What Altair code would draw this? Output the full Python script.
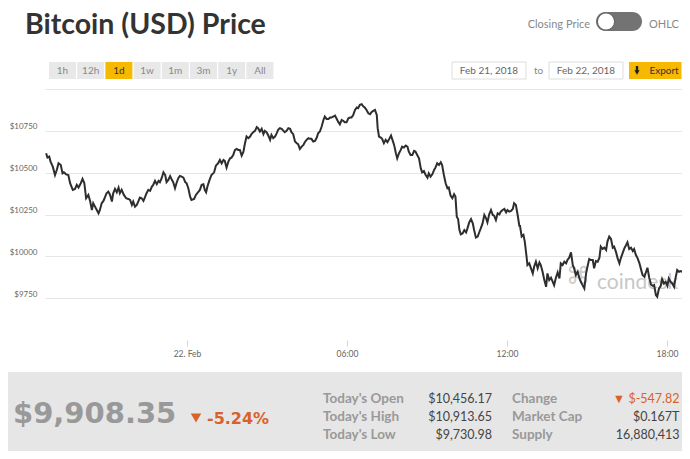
import altair as alt
import pandas as pd

# ---- price series (minutes relative to 22 Feb 2018 00:00, closing price USD) ----
minutes = [
    -317, -314, -310, -307, -302, -297, -293, -289, -284, -280, -277, -272, -267, -263, -257, -252,
    -248, -244, -239, -235, -231, -227, -222, -218, -214, -211, -207, -203, -199, -196, -192, -188,
    -184, -181, -177, -173, -169, -166, -162, -158, -154, -151, -147, -142, -137, -132, -128, -124,
    -121, -117, -113, -109, -106, -102, -98, -94, -91, -87, -83, -79, -76, -72, -68, -64,
    -61, -57, -53, -49, -46, -42, -38, -34, -31, -27, -23, -19, -16, -12, -8, -4,
    -1, 3, 7, 10, 16, 20, 25, 29, 33, 37, 40, 43, 46, 50, 55, 61,
    65, 70, 74, 78, 82, 85, 89, 93, 97, 100, 104, 108, 112, 115, 119, 123,
    127, 130, 134, 138, 142, 145, 149, 153, 157, 160, 164, 168, 172, 175, 179, 183,
    187, 190, 194, 198, 202, 205, 209, 213, 217, 220, 224, 228, 232, 235, 239, 243,
    247, 250, 254, 258, 262, 265, 269, 273, 277, 280, 284, 288, 292, 295, 299, 303,
    307, 310, 314, 318, 322, 325, 329, 333, 337, 340, 344, 348, 352, 355, 359, 363,
    367, 370, 374, 378, 382, 385, 389, 393, 397, 400, 404, 408, 412, 415, 419, 423,
    427, 429, 432, 436, 439, 443, 447, 451, 454, 459, 463, 466, 470, 473, 477, 481,
    484, 488, 492, 496, 499, 503, 507, 511, 514, 518, 522, 526, 529, 533, 537, 541,
    544, 548, 552, 556, 559, 563, 567, 571, 574, 578, 582, 586, 589, 593, 597, 601,
    604, 607, 610, 613, 616, 620, 624, 628, 631, 635, 639, 643, 646, 650, 654, 658,
    661, 665, 669, 673, 676, 680, 684, 688, 691, 695, 699, 703, 706, 710, 714, 718,
    721, 725, 729, 733, 736, 740, 744, 748, 749, 753, 757, 760, 764, 766, 770, 774,
    778, 781, 785, 789, 793, 796, 800, 804, 808, 811, 815, 819, 823, 826, 830, 834,
    838, 841, 845, 849, 853, 856, 860, 864, 868, 871, 875, 879, 883, 886, 890, 894,
    898, 901, 905, 909, 913, 916, 920, 924, 928, 931, 935, 939, 943, 946, 950, 954,
    958, 961, 965, 969, 973, 976, 980, 984, 988, 991, 995, 999, 1003, 1006, 1010, 1014,
    1018, 1021, 1025, 1029, 1033, 1036, 1040, 1044, 1048, 1051, 1055, 1058, 1062, 1066, 1069, 1073,
    1077, 1081, 1084, 1088, 1092, 1096, 1099, 1103, 1107, 1111, 1114, 1118, 1120,
]
prices = [
    10616, 10590, 10596, 10566, 10536, 10486, 10516, 10556, 10546, 10496, 10502, 10490, 10486, 10437, 10397, 10403,
    10427, 10411, 10437, 10463, 10437, 10347, 10367, 10331, 10277, 10317, 10297, 10277, 10257, 10277, 10317, 10331,
    10357, 10377, 10387, 10367, 10327, 10377, 10403, 10383, 10411, 10377, 10397, 10367, 10347, 10343, 10337, 10307,
    10327, 10297, 10307, 10331, 10351, 10347, 10331, 10357, 10377, 10397, 10391, 10417, 10427, 10451, 10431, 10451,
    10443, 10467, 10502, 10486, 10443, 10457, 10480, 10457, 10443, 10407, 10443, 10470, 10480, 10476, 10470, 10443,
    10437, 10407, 10357, 10337, 10343, 10367, 10383, 10397, 10427, 10431, 10397, 10383, 10417, 10451, 10486, 10502,
    10542, 10556, 10576, 10556, 10576, 10570, 10530, 10566, 10586, 10590, 10606, 10636, 10642, 10636, 10636, 10602,
    10626, 10670, 10716, 10706, 10716, 10730, 10742, 10750, 10772, 10766, 10746, 10762, 10730, 10750, 10742, 10722,
    10696, 10726, 10706, 10716, 10736, 10756, 10766, 10762, 10750, 10742, 10750, 10766, 10762, 10742, 10730, 10686,
    10676, 10670, 10642, 10656, 10666, 10682, 10696, 10706, 10702, 10702, 10686, 10690, 10710, 10736, 10746, 10776,
    10815, 10835, 10821, 10821, 10829, 10829, 10835, 10841, 10821, 10805, 10789, 10815, 10809, 10801, 10801, 10825,
    10829, 10829, 10845, 10875, 10889, 10885, 10905, 10909, 10895, 10889, 10875, 10855, 10849, 10861, 10869, 10875,
    10845, 10766, 10716, 10710, 10702, 10676, 10696, 10682, 10696, 10722, 10690, 10666, 10616, 10586, 10616, 10636,
    10656, 10650, 10662, 10656, 10626, 10606, 10606, 10630, 10626, 10606, 10586, 10526, 10502, 10510, 10486, 10470,
    10496, 10476, 10490, 10516, 10530, 10556, 10546, 10562, 10546, 10486, 10437, 10407, 10411, 10363, 10347, 10371,
    10357, 10237, 10223, 10157, 10132, 10137, 10157, 10143, 10167, 10203, 10223, 10197, 10157, 10112, 10118, 10147,
    10167, 10197, 10247, 10227, 10203, 10251, 10277, 10247, 10243, 10217, 10257, 10251, 10267, 10277, 10283, 10263,
    10277, 10267, 10271, 10283, 10317, 10307, 10247, 10177, 10187, 10118, 10128, 10088, 9998, 9948, 9958, 9928,
    9898, 9938, 9968, 9928, 9964, 9948, 9908, 9858, 9818, 9898, 9858, 9872, 9848, 9828, 9872, 9904,
    9868, 9958, 9948, 9968, 9958, 9978, 9992, 10024, 9948, 9928, 9888, 9908, 9868, 9848, 9828, 9808,
    9898, 9938, 9984, 9978, 9978, 9928, 9972, 9968, 9992, 10058, 10044, 10052, 10038, 10088, 10118, 10104,
    10052, 10058, 10028, 9988, 9958, 9988, 10018, 10048, 10068, 10084, 10044, 10052, 10032, 10044, 10008, 9988,
    9958, 9928, 9888, 9878, 9908, 9932, 9872, 9832, 9824, 9828, 9769, 9759, 9808, 9824, 9864, 9838,
    9848, 9824, 9868, 9848, 9838, 9818, 9868, 9918, 9908, 9912, 9908, 9908, 9904,
]

# ---- axis ticks ----
tick_minutes = [0, 360, 720, 1080]
tick_labels = ["22. Feb", "06:00", "12:00", "18:00"]
price_ticks = [9750, 10000, 10250, 10500, 10750, 11000]
x_domain = [-319.5, 1113.75]
y_domain = [9500, 11000]

# ---- texts ----
title_text = "Bitcoin (USD) Price"
ranges = ["1h", "12h", "1d", "1w", "1m", "3m", "1y", "All"]
active_range = "1d"
date_from = "Feb 21, 2018"
date_to = "Feb 22, 2018"
last_price = "$9,908.35"
pct_change = "-5.24%"
stat_labels = ["Today's Open", "Today's High", "Today's Low"]
stat_values = ["$10,456.17", "$10,913.65", "$9,730.98"]
info_labels = ["Change", "Market Cap", "Supply"]
info_values = ["\u25bc $-547.82", "$0.167T", "16,880,413"]

ORANGE = "#d8622a"
YELLOW = "#f6b800"
FONT = "Lato"

# x label expression built from the tick lists
expr = "'" + tick_labels[-1] + "'"
for m, l in reversed(list(zip(tick_minutes[:-1], tick_labels[:-1]))):
    expr = f"datum.value == {m} ? '{l}' : ({expr})"

df = pd.DataFrame({"minute": minutes, "price": prices})

line = alt.Chart(df).mark_line(color="#2e2e2e", strokeWidth=2).encode(
    x=alt.X("minute:Q", title=None,
            scale=alt.Scale(domain=x_domain, nice=False, zero=False),
            axis=alt.Axis(values=tick_minutes, labelExpr=expr, grid=False, domain=False,
                          tickColor="#ccd6eb", tickSize=6, labelColor="#666666",
                          labelFontSize=8.5, labelFont=FONT, labelPadding=3)),
    y=alt.Y("price:Q", title=None,
            scale=alt.Scale(domain=y_domain, nice=False, zero=False),
            axis=alt.Axis(values=price_ticks,
                          labelExpr=f"datum.value >= {y_domain[1]} ? '' : '$' + datum.value",
                          grid=True, gridColor="#e6e6e6", domain=False, ticks=False,
                          labelPadding=8, labelBaseline="alphabetic", labelOffset=-2,
                          labelColor="#666666", labelFontSize=8, labelFont=FONT)),
)

one = alt.Data(values=[{}])


def txt(text, x, y, **kw):
    return alt.Chart(alt.Data(values=[{"t": text}])).mark_text(**kw).encode(
        x=alt.value(x), y=alt.value(y), text="t:N")


def box(x, x2, y, y2, **kw):
    return alt.Chart(one).mark_rect(**kw).encode(
        x=alt.value(x), x2=alt.value(x2), y=alt.value(y), y2=alt.value(y2))


# header
title = txt(title_text, -20, -55.5, align="left", baseline="alphabetic", font=FONT,
            fontWeight="bold", fontSize=28.5, color="#333333")

btn_df = pd.DataFrame({"label": ranges, "i": list(range(len(ranges)))})
btn_base = alt.Chart(btn_df).transform_calculate(
    bx="4 + 28.2*datum.i", bx2="31 + 28.2*datum.i", bc="17.5 + 28.2*datum.i")
btn_rect = btn_base.mark_rect().encode(
    x=alt.X("bx:Q", scale=None), x2=alt.X2("bx2:Q"),
    y=alt.value(-27), y2=alt.value(-10),
    color=alt.condition(alt.datum.label == active_range, alt.value(YELLOW), alt.value("#e8e8e8")))
btn_text = btn_base.mark_text(font=FONT, fontSize=10, baseline="middle", align="center").encode(
    x=alt.X("bc:Q", scale=None), y=alt.value(-18.5), text="label:N",
    color=alt.condition(alt.datum.label == active_range, alt.value("#333333"), alt.value("#888888")))

closing = txt("Closing Price", 545, -61, align="right", baseline="alphabetic", font=FONT,
              fontSize=11, color="#888888")
pill = box(551, 597, -77, -58, cornerRadius=9.5, color="#737373")
knob = alt.Chart(one).mark_point(shape="circle", filled=True, fill="white", stroke="#666666",
                                 strokeWidth=1.2, size=300, opacity=1).encode(
    x=alt.value(561), y=alt.value(-67.5))
ohlc = txt("OHLC", 604, -61, align="left", baseline="alphabetic", font=FONT,
           fontSize=11, color="#888888")

d1 = box(407, 481, -27, -10, color="white", stroke="#dddddd", strokeWidth=1)
d1t = txt(date_from, 444, -18.5, align="center", baseline="middle", font=FONT, fontSize=10,
          color="#666666")
to_t = txt("to", 493.5, -18.5, align="center", baseline="middle", font=FONT, fontSize=10,
           color="#888888")
d2 = box(504, 578, -27, -10, color="white", stroke="#dddddd", strokeWidth=1)
d2t = txt(date_to, 541, -18.5, align="center", baseline="middle", font=FONT, fontSize=10,
          color="#666666")
exp_box = box(584, 636.5, -27, -10, color=YELLOW)
exp_arrow = alt.Chart(one).mark_point(shape="triangle-down", filled=True, color="#222222",
                                      size=28, opacity=1).encode(x=alt.value(592), y=alt.value(-16.5))
exp_shaft = box(590.8, 593.2, -23, -18, color="#222222")
exp_t = txt("Export", 619, -18.5, align="center", baseline="middle", font=FONT, fontSize=10,
            color="#333333")

# watermark
wm_logo = txt("\u2318", 533, 188, align="center", baseline="middle", font="DejaVu Sans",
              fontSize=24, color="#cccccc")
wm_text = txt("coindesk", 552, 200, align="left", baseline="alphabetic", font=FONT,
              fontSize=21, color="#c8c8c8")

# bottom panel
panel = box(-37, 637, 283, 362, color="#e6e6e6")
big = txt(last_price, -32, 333.5, align="left", baseline="alphabetic", font="DejaVu Sans",
          fontWeight="bold", fontSize=29, color="#999999")
tri = alt.Chart(one).mark_point(shape="triangle-down", filled=True, color=ORANGE, size=110,
                                opacity=1).encode(x=alt.value(151), y=alt.value(329))
pct = txt(pct_change, 162, 335, align="left", baseline="alphabetic", font="DejaVu Sans",
          fontWeight="bold", fontSize=16, color=ORANGE)

stats_df = pd.DataFrame({"label": stat_labels, "value": stat_values,
                         "ilabel": info_labels, "ivalue": info_values,
                         "row": list(range(len(stat_labels)))})
sbase = alt.Chart(stats_df).transform_calculate(yy="314.3 + 18*datum.row")
s_lab = sbase.mark_text(align="left", baseline="alphabetic", font=FONT, fontWeight="bold",
                        fontSize=13.5, color="#999999").encode(
    x=alt.value(278), y=alt.Y("yy:Q", scale=None), text="label:N")
s_val = sbase.mark_text(align="right", baseline="alphabetic", font=FONT, fontSize=12.5,
                        color="#444444").encode(
    x=alt.value(447), y=alt.Y("yy:Q", scale=None), text="value:N")
i_lab = sbase.mark_text(align="left", baseline="alphabetic", font=FONT, fontWeight="bold",
                        fontSize=13.5, color="#999999").encode(
    x=alt.value(467), y=alt.Y("yy:Q", scale=None), text="ilabel:N")
i_val = sbase.mark_text(align="right", baseline="alphabetic", font=FONT, fontSize=12.5).encode(
    x=alt.value(634.5), y=alt.Y("yy:Q", scale=None), text="ivalue:N",
    color=alt.condition(alt.datum.row == 0, alt.value(ORANGE), alt.value("#444444")))

chart = alt.layer(
    panel, title, btn_rect, btn_text, closing, pill, knob, ohlc,
    d1, d1t, to_t, d2, d2t, exp_box, exp_shaft, exp_arrow, exp_t,
    wm_logo, wm_text, line,
    big, tri, pct, s_lab, s_val, i_lab, i_val,
).properties(
    width=637, height=251,
    autosize=alt.AutoSizeParams(type="none"),
    padding={"left": 37, "top": 81, "right": 0, "bottom": 111},
    background="white",
).configure_view(stroke=None)

chart.save("out.html", embed_options={"renderer": "svg", "actions": False})
